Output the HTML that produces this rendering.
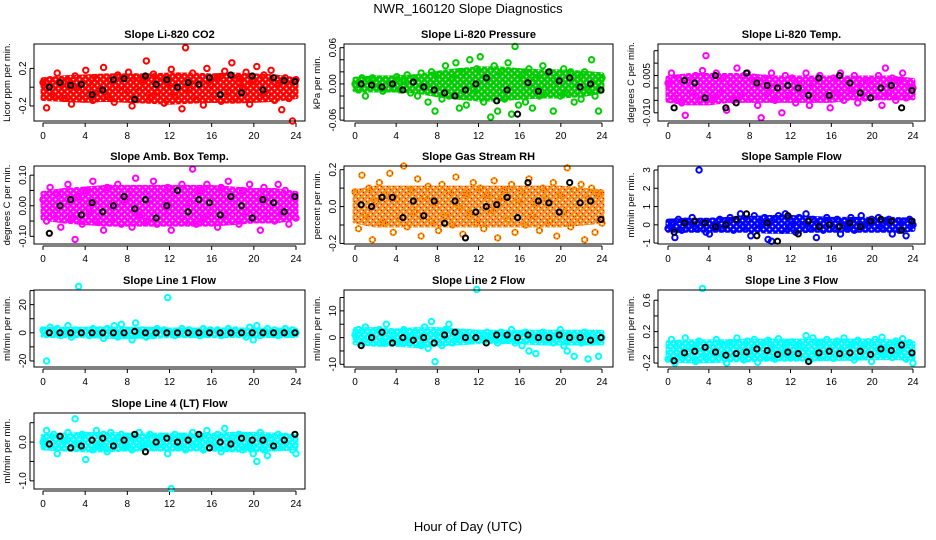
<!DOCTYPE html>
<html><head><meta charset="utf-8"><style>
body{margin:0;background:#fff}
svg{display:block;font-family:"Liberation Sans",sans-serif}
</style></head><body>
<svg id="c" width="936" height="540" viewBox="0 0 936 540">
<defs id="defs"></defs>
<text x="468" y="13" text-anchor="middle" font-size="13">NWR_160120  Slope Diagnostics</text>
<text x="468" y="531" text-anchor="middle" font-size="13">Hour of Day (UTC)</text>
</svg>
<script>
const hourTicks=[0,4,8,12,16,20,24];
const co2Vals=[0.05,-0.22,0.08,-0.10,0.15,0.03,-0.12,0.06,-0.18,0.12,0.0,-0.08,0.18,0.05,-0.14,0.09,-0.03,0.21,-0.10,0.07,-0.16,0.13,0.01,-0.07,0.16,-0.20,0.11,-0.04,0.08,0.28,-0.11,0.14,-0.06,0.10,-0.17,0.04,0.19,-0.09,0.12,-0.23,0.42,-0.02,0.15,-0.13,0.07,-0.19,0.20,0.03,-0.08,0.11,-0.15,0.17,-0.05,0.26,-0.12,0.09,-0.01,0.16,-0.18,0.06,0.22,-0.10,0.13,-0.07,0.18,-0.14,0.04,-0.24,0.10,-0.12,-0.36,0.08];
const co2Black=[0.0,0.05,0.02,0.03,-0.08,-0.03,0.08,0.09,-0.13,0.12,0.03,0.08,0.0,0.05,0.03,0.10,-0.08,0.13,-0.06,0.12,-0.03,0.10,0.07,0.06];
const co2Lo=[-0.12,-0.13,-0.14,-0.13,-0.14,-0.15,-0.16,-0.15,-0.14,-0.15,-0.14,-0.13,-0.10];
const co2Hi=[0.08,0.10,0.11,0.12,0.12,0.12,0.13,0.13,0.12,0.13,0.12,0.11,0.08];
const presVals=[0.0,-0.01,0.01,-0.02,0.005,0.01,-0.005,0.008,-0.012,0.006,0.0,-0.008,0.012,-0.01,0.004,0.015,-0.015,0.01,-0.02,0.018,-0.005,-0.03,0.02,-0.045,0.015,-0.025,0.03,-0.02,0.01,0.035,-0.04,0.02,-0.035,0.04,-0.01,0.025,0.045,-0.03,0.01,-0.055,0.03,-0.045,0.02,-0.025,0.035,-0.05,0.062,-0.035,0.015,-0.03,0.025,-0.04,0.01,-0.02,0.03,-0.015,0.02,-0.045,0.01,-0.02,0.025,-0.015,0.02,-0.03,0.015,-0.025,0.02,-0.01,0.04,-0.02,-0.045,0.01];
const presBlack=[0.0,-0.002,-0.005,0.0,-0.01,0.003,-0.005,-0.01,-0.015,-0.02,-0.01,0.0,0.01,-0.028,-0.01,-0.05,0.002,-0.012,0.02,0.005,0.01,-0.005,0.0,-0.01];
const presLo=[-0.01,-0.01,-0.01,-0.012,-0.018,-0.022,-0.025,-0.025,-0.022,-0.02,-0.02,-0.018,-0.012];
const presHi=[0.008,0.01,0.01,0.012,0.018,0.022,0.025,0.025,0.022,0.02,0.02,0.018,0.015];
const tempVals=[0.002,0.006,-0.004,0.004,-0.006,-0.011,0.003,-0.002,0.005,-0.005,0.007,0.013,0.001,-0.004,0.006,-0.002,0.004,-0.009,0.002,-0.005,0.008,-0.003,0.005,0.006,-0.004,0.003,-0.007,-0.012,0.004,-0.002,0.006,-0.005,0.002,-0.010,0.005,-0.003,0.004,-0.006,0.003,-0.002,0.006,-0.007,0.002,-0.004,0.005,0.001,-0.003,-0.008,0.004,-0.002,0.006,-0.005,0.003,-0.001,0.005,-0.006,0.002,-0.004,0.003,0.001,-0.003,0.005,-0.007,0.008,-0.002,0.004,-0.005,0.003,0.006,-0.004,0.002,0.0];
const tempBlack=[-0.008,0.003,0.002,-0.004,0.005,-0.008,-0.006,0.006,0.002,0.001,0.0,0.001,0.0,-0.003,0.004,-0.003,0.005,0.002,-0.002,-0.004,0.0,0.001,-0.008,-0.001];
const tempLo=[-0.005,-0.006,-0.006,-0.005,-0.005,-0.005,-0.005,-0.005,-0.005,-0.004,-0.004,-0.004,-0.004];
const tempHi=[0.004,0.005,0.005,0.005,0.005,0.004,0.004,0.004,0.004,0.004,0.004,0.004,0.003];
const ambVals=[0.02,-0.05,0.06,-0.03,0.04,-0.07,0.01,0.07,-0.04,-0.11,0.03,-0.06,0.05,-0.02,0.08,-0.05,0.03,-0.08,0.06,0.0,-0.04,0.07,-0.06,0.02,0.04,-0.07,0.09,-0.03,0.05,-0.05,0.02,0.08,-0.06,0.03,-0.02,0.06,-0.08,0.04,-0.03,0.07,-0.05,0.01,0.12,-0.06,0.05,-0.04,0.07,-0.02,0.03,-0.07,0.06,-0.03,0.08,-0.05,0.02,-0.06,0.05,-0.02,0.07,-0.04,0.03,-0.08,0.06,-0.03,0.04,-0.05,0.07,-0.02,0.05,-0.06,0.03,-0.04];
const ambBlack=[-0.09,0.0,0.02,-0.03,0.01,-0.02,0.0,0.03,-0.01,0.02,-0.04,0.0,0.05,-0.02,0.02,0.01,-0.03,0.03,0.0,-0.04,0.02,0.01,-0.02,0.03];
const ambLo=[-0.04,-0.05,-0.055,-0.06,-0.06,-0.06,-0.06,-0.06,-0.06,-0.055,-0.05,-0.05,-0.04];
const ambHi=[0.04,0.05,0.055,0.06,0.06,0.06,0.06,0.06,0.06,0.055,0.05,0.05,0.04];
const rhVals=[0.08,-0.12,0.17,-0.05,0.1,-0.18,0.03,0.13,-0.09,0.06,0.18,-0.14,0.04,-0.07,0.22,-0.11,0.09,-0.03,0.15,-0.16,0.05,0.11,-0.08,0.02,-0.13,0.12,-0.05,0.08,-0.1,0.16,0.0,-0.15,0.07,-0.04,0.13,-0.09,0.1,-0.12,0.06,-0.02,0.14,-0.17,0.05,0.09,-0.07,0.12,-0.14,0.03,0.08,-0.1,0.15,-0.05,0.02,-0.13,0.1,0.04,-0.08,0.13,-0.16,0.06,-0.03,0.21,-0.11,0.09,-0.06,0.12,-0.18,0.04,0.1,-0.14,0.07,-0.09];
const rhBlack=[0.01,0.0,0.05,0.05,-0.06,0.03,-0.05,0.03,-0.09,0.03,-0.17,-0.03,0.0,0.01,0.05,-0.06,0.13,0.03,0.02,-0.03,0.13,0.02,0.03,-0.07];
const rhLo=[-0.08,-0.1,-0.1,-0.1,-0.1,-0.1,-0.1,-0.1,-0.1,-0.1,-0.1,-0.09,-0.08];
const rhHi=[0.08,0.1,0.1,0.1,0.1,0.1,0.1,0.1,0.1,0.1,0.1,0.09,0.08];
const flowVals=[-0.2,0.1,-0.7,0.3,-0.3,0.2,0.0,0.4,-0.2,3.0,0.1,-0.4,-0.5,0.2,-0.1,0.3,-0.2,0.1,0.4,-0.3,0.2,0.6,-0.1,0.3,-0.6,0.5,-0.2,0.1,0.4,-0.8,-0.9,0.3,0.5,-0.3,0.6,-0.1,0.2,-0.4,0.4,0.0,0.6,-0.2,0.3,-0.7,0.2,-0.3,0.4,0.1,-0.2,0.3,-0.5,0.2,-0.1,0.4,-0.3,0.2,0.5,-0.2,0.1,0.3,-0.1,0.4,-0.2,0.2,0.3,-0.5,0.1,-0.3,0.2,-0.6,0.3,0.0];
const flowBlack=[-0.4,0.1,0.2,0.1,-0.1,0.0,0.3,0.6,-0.6,0.1,-0.9,0.5,-0.5,0.2,-0.1,0.0,-0.1,0.1,-0.1,0.2,0.3,0.2,-0.3,0.2];
const flowLo=[-0.3,-0.3,-0.3,-0.3,-0.3,-0.35,-0.35,-0.3,-0.3,-0.3,-0.3,-0.3,-0.25];
const flowHi=[0.2,0.25,0.25,0.3,0.35,0.4,0.4,0.35,0.3,0.3,0.3,0.3,0.25];
const line1Vals=[2,-20,4,-1,3,-2,1,5,-3,2,33,-1,1,-2,3,-1,2,-4,3,0,5,-3,6,-2,1,-5,7,-1,2,-3,1,-2,3,-1,2,25,0,-2,1,3,-1,2,-1,1,-2,3,-1,2,-1,2,-2,1,3,-1,2,-1,1,-3,4,-5,5,-2,1,3,-1,2,-2,1,3,-1,2,0];
const line1Black=[0,0,0,0,0,0,0,0,1,0,0,0,0,0,0,0,0,0,0,0,0,0,0,0];
const line1Lo=[-2,-2,-2,-2.5,-2.5,-2.5,-2,-2,-2,-2,-2,-2,-2];
const line1Hi=[2.5,2.5,2.5,2.5,2.5,2.5,2,2,2,2,2,2,2];
const line2Vals=[1,3,-2,4,0,2,-1,3,-2,5,1,-1,2,-2,3,0,-1,2,1,-3,4,-4,6,-9,2,-3,3,5,-2,1,-1,2,0,-1,1,18,1,-1,2,0,1,-2,2,-1,0,3,-2,1,-3,2,-5,0,-6,1,2,-1,0,-2,1,3,-3,-5,1,-7,0,-2,2,-8,1,-1,-7,0];
const line2Black=[-3,0,2,-2,0,-1,0,-2,1,2,0,0,-2,1,1,0,1,0,0,1,0,0,-1,0];
const line2Lo=[-2,-2.5,-2.5,-3,-2.5,-2,-1.5,-1.5,-1.5,-2,-2,-2,-2];
const line2Hi=[3,3,2.5,3,3,2.5,2,2,2,2,2,2,2];
const line3Vals=[-0.15,0.1,-0.2,0.05,-0.1,0.12,-0.05,0.0,-0.18,0.08,0.75,-0.12,0.04,-0.15,0.1,-0.08,0.02,-0.2,0.06,-0.1,0.12,-0.04,-0.16,0.08,-0.06,0.1,-0.19,0.03,-0.12,0.09,-0.02,-0.15,0.11,-0.07,0.05,-0.13,0.07,-0.1,0.02,-0.05,0.15,-0.17,0.12,-0.08,0.06,-0.12,0.1,-0.03,-0.14,0.08,-0.06,0.12,-0.1,0.04,-0.16,0.09,-0.02,-0.11,0.07,-0.18,0.1,-0.05,0.13,-0.09,0.03,-0.13,0.08,-0.04,0.11,-0.15,0.06,-0.2];
const line3Black=[-0.17,-0.07,-0.05,0.0,-0.06,-0.1,-0.08,-0.06,-0.02,-0.04,-0.09,-0.06,-0.08,-0.18,-0.07,-0.05,-0.08,-0.07,-0.05,-0.09,-0.02,-0.04,0.03,-0.07];
const line3Lo=[-0.16,-0.17,-0.17,-0.16,-0.16,-0.15,-0.15,-0.15,-0.14,-0.14,-0.13,-0.13,-0.14];
const line3Hi=[0.06,0.07,0.07,0.07,0.08,0.08,0.08,0.08,0.08,0.08,0.08,0.07,0.05];
const line4Vals=[0.0,0.3,-0.1,0.2,-0.3,0.1,0.05,0.25,-0.15,0.6,-0.05,0.2,-0.45,0.15,-0.2,0.3,-0.1,0.2,-0.25,0.25,0.0,-0.15,0.2,-0.1,0.15,-0.2,0.1,0.25,-0.1,0.05,0.2,-0.15,0.1,-0.05,0.15,-0.3,-1.2,0.2,-0.1,0.15,-0.2,0.1,0.25,-0.05,0.15,-0.2,0.3,0.05,-0.1,0.2,-0.25,0.35,-0.15,0.1,-0.05,0.2,-0.2,0.15,-0.1,-0.3,-0.5,0.25,-0.2,-0.35,0.1,-0.15,0.2,-0.1,0.15,0.05,-0.2,-0.3];
const line4Black=[-0.05,0.15,-0.15,-0.1,0.05,0.1,-0.1,0.05,0.2,-0.25,0.0,0.1,0.0,0.05,0.2,-0.15,0.0,-0.05,0.1,0.05,0.05,-0.1,0.05,0.2];
const line4Lo=[-0.15,-0.18,-0.2,-0.2,-0.18,-0.18,-0.18,-0.18,-0.18,-0.2,-0.2,-0.18,-0.15];
const line4Hi=[0.15,0.18,0.2,0.2,0.18,0.18,0.18,0.18,0.18,0.2,0.2,0.18,0.15];

const cols=[{x0:34,x1:305,t0:43,t1:296},{x0:344,x1:613,t0:355,t1:602},{x0:658,x1:925,t0:668,t1:913}];
const rows=[{y0:44,y1:121},{y0:166,y1:244},{y0:290,y1:367},{y0:413,y1:489}];
const panels=[
{id:'co2',title:'Slope Li-820 CO2',yl:'Licor ppm per min.',c:0,r:0,lo:-0.36,hi:0.46,ticks:[-0.2,0,0.2],labs:['-0.2','','0.2'],col:'#ff0000',v:co2Vals,b:co2Black,bl:co2Lo,bh:co2Hi},
{id:'pressure',title:'Slope Li-820 Pressure',yl:'kPa per min.',c:1,r:0,lo:-0.0614,hi:0.0661,ticks:[-0.06,-0.04,-0.02,0,0.02,0.04,0.06],labs:['-0.06','','','0.00','','','0.06'],col:'#00cc00',v:presVals,b:presBlack,bl:presLo,bh:presHi},
{id:'temp',title:'Slope Li-820 Temp.',yl:'degrees C per min.',c:2,r:0,lo:-0.0133,hi:0.0177,ticks:[-0.01,-0.005,0,0.005,0.01,0.015],labs:['-0.010','','','0.005','',''],col:'#ff00ff',v:tempVals,b:tempBlack,bl:tempLo,bh:tempHi},
{id:'amb',title:'Slope Amb. Box Temp.',yl:'degrees C per min.',c:0,r:1,lo:-0.125,hi:0.13,ticks:[-0.1,-0.05,0,0.05,0.1],labs:['-0.10','','0.00','','0.10'],col:'#ff00ff',v:ambVals,b:ambBlack,bl:ambLo,bh:ambHi},
{id:'rh',title:'Slope Gas Stream RH',yl:'percent per min.',c:1,r:1,lo:-0.203,hi:0.22,ticks:[-0.2,-0.1,0,0.1,0.2],labs:['-0.2','','0.0','','0.2'],col:'#f5a000',col2:'#ff0000',band:'#f09020',v:rhVals,b:rhBlack,bl:rhLo,bh:rhHi},
{id:'sample-flow',title:'Slope Sample Flow',yl:'ml/min per min.',c:2,r:1,lo:-1.05,hi:3.22,ticks:[-1,0,1,2,3],labs:['-1','0','1','2','3'],col:'#0000ff',v:flowVals,b:flowBlack,bl:flowLo,bh:flowHi},
{id:'line1',title:'Slope Line 1 Flow',yl:'ml/min per min.',c:0,r:2,lo:-24.3,hi:30.4,ticks:[-20,-10,0,10,20,30],labs:['-20','','0','','20',''],col:'#00ffff',v:line1Vals,b:line1Black,bl:line1Lo,bh:line1Hi},
{id:'line2',title:'Slope Line 2 Flow',yl:'ml/min per min.',c:1,r:2,lo:-11,hi:17.8,ticks:[-10,-5,0,5,10,15],labs:['-10','','0','','10',''],col:'#00ffff',v:line2Vals,b:line2Black,bl:line2Lo,bh:line2Hi},
{id:'line3',title:'Slope Line 3 Flow',yl:'ml/min per min.',c:2,r:2,lo:-0.25,hi:0.73,ticks:[-0.2,0,0.2,0.4,0.6],labs:['-0.2','','0.2','','0.6'],col:'#00ffff',v:line3Vals,b:line3Black,bl:line3Lo,bh:line3Hi},
{id:'line4',title:'Slope Line 4 (LT) Flow',yl:'ml/min per min.',c:0,r:3,lo:-1.21,hi:0.75,ticks:[-1,-0.5,0,0.5],labs:['-1.0','','0.0',''],col:'#00ffff',v:line4Vals,b:line4Black,bl:line4Lo,bh:line4Hi}
];
const NS='http://www.w3.org/2000/svg';
const svg=document.getElementById('c');
const defs=document.getElementById('defs');
function mk(tag,attrs,parent){const e=document.createElementNS(NS,tag);for(const k in attrs)e.setAttribute(k,attrs[k]);(parent||svg).appendChild(e);return e;}
panels.forEach(p=>{
  const C=cols[p.c],R=rows[p.r];
  const bc=p.band||p.col;
  const pat=mk('pattern',{id:'pat-'+p.id,width:6,height:6,patternUnits:'userSpaceOnUse'},defs);
  mk('rect',{width:6,height:6,fill:bc},pat);
  mk('circle',{cx:1.5,cy:1.5,r:0.9,fill:'#fff'},pat);
  mk('circle',{cx:4.5,cy:4.5,r:0.9,fill:'#fff'},pat);
  if(p.col2){mk('rect',{x:3,y:0,width:1,height:1,fill:p.col2},pat);mk('rect',{x:0,y:3,width:1,height:1,fill:p.col2},pat);}
  const g=mk('g',{});
  
  
  const xs=h=>C.t0+(C.t1-C.t0)*h/24;
  const ys=v=>R.y1-(v-p.lo)/(p.hi-p.lo)*(R.y1-R.y0);
  const t=mk('text',{x:(C.x0+C.x1)/2,y:R.y0-6,'text-anchor':'middle','font-size':11,'font-weight':'bold'},g);
  t.textContent=p.title;
  
  
  const yt=mk('text',{transform:`translate(${C.x0-24},${(R.y0+R.y1)/2}) rotate(-90)`,'text-anchor':'middle','font-size':9.5},g);
  yt.textContent=p.yl;
  
  
  p.ticks.forEach((tv,i)=>{
    const y=ys(tv);
    mk('line',{x1:C.x0-4,x2:C.x0,y1:y,y2:y,stroke:'#000'},g);
    if(p.labs[i]){const l=mk('text',{transform:`translate(${C.x0-8},${y}) rotate(-90)`,'text-anchor':'middle','font-size':10},g);l.textContent=p.labs[i];
      
      }
  });
  mk('line',{x1:C.x0-4,x2:C.x0-4,y1:ys(p.ticks[0]),y2:ys(p.ticks[p.ticks.length-1]),stroke:'#000'},g);
  hourTicks.forEach(h=>{
    const x=xs(h);
    mk('line',{x1:x,x2:x,y1:R.y1+2,y2:R.y1+6,stroke:'#000'},g);
    const l=mk('text',{x:x,y:R.y1+18,'text-anchor':'middle','font-size':10},g);l.textContent=h;
    
    
  });
  mk('line',{x1:xs(0),x2:xs(24),y1:R.y1+2,y2:R.y1+2,stroke:'#000'},g);
  const nb=p.bl.length;
  let d='';
  p.bh.forEach((v,i)=>{d+=(i?'L':'M')+xs(24*i/(nb-1))+','+ys(v);});
  for(let i=nb-1;i>=0;i--){d+='L'+xs(24*i/(nb-1))+','+ys(p.bl[i]);}
  const band=mk('path',{d:d+'Z',fill:'url(#pat-'+p.id+')',stroke:'url(#pat-'+p.id+')','stroke-width':5,'stroke-linejoin':'round'},g);
  
  
  const n=p.v.length;
  p.v.forEach((v,i)=>{
    const cx=xs(24*i/(n-1)),cy=ys(v);
    const c=mk('circle',{cx:cx,cy:cy,r:2.7,fill:'none',stroke:p.col,'stroke-width':2},g);
    
    
    if(p.col2)mk('circle',{cx:cx,cy:cy,r:2.7,fill:'none',stroke:p.col2,'stroke-width':1,'stroke-dasharray':'1 2'},g);
  });
  const m=p.b.length;
  p.b.forEach((v,i)=>{
    const c=mk('circle',{cx:xs(0.6+23.3*i/(m-1)),cy:ys(v),r:2.6,fill:'none',stroke:'#000','stroke-width':2},g);
    
    
  });
  const box=mk('rect',{x:C.x0,y:R.y0,width:C.x1-C.x0,height:R.y1-R.y0,fill:'none',stroke:'#000'},g);
  
  
});
</script>
</body></html>
